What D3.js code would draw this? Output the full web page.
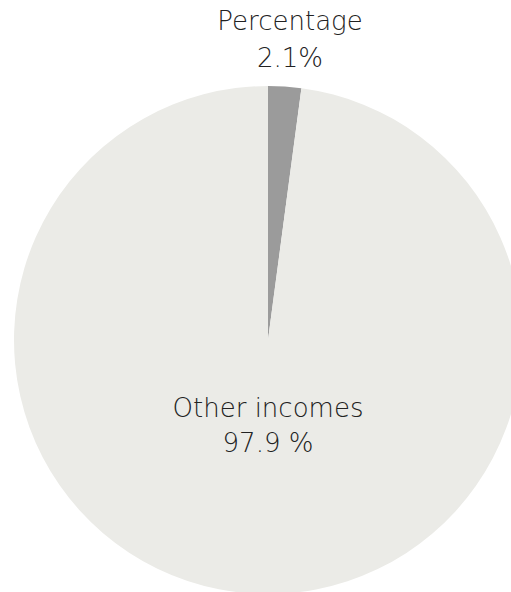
<!DOCTYPE html>
<html><head><meta charset="utf-8">
<script src="https://cdn.jsdelivr.net/npm/d3@7"></script>
<style>body{margin:0;background:#fff;} svg{display:block;}</style>
</head><body>
<svg id="chart" width="511" height="592"></svg>
<script>
const categories = ["Percentage", "Other incomes"];
const values = [2.1, 97.9];
const valueLabels = ["2.1%", "97.9 %"];
const colors = ["#9b9b9b", "#ebebe7"];

const svg = d3.select("#chart");
const cx = 268, cy = 340, r = 254;
const g = svg.append("g").attr("transform", `translate(${cx},${cy})`);
const pie = d3.pie().sort(null).value(d => d)(values);
const arc = d3.arc().innerRadius(0).outerRadius(r);
g.selectAll("path").data(pie).enter().append("path")
  .attr("d", arc).attr("fill", (d, i) => colors[i]);

const font = "'DejaVu Sans ExtraLight', 'DejaVu Sans', sans-serif";
// outside label for small slice follows its mid-angle; inside label centred
const mid0 = (pie[0].startAngle + pie[0].endAngle) / 2;
const labels = [
  {lines: [categories[0], valueLabels[0]], x: cx + (r + 80) * Math.sin(mid0), y: [30, 67]},
  {lines: [categories[1], valueLabels[1]], x: cx, y: [417, 452]}
];
labels.forEach(l => {
  l.lines.forEach((t, i) => {
    svg.append("text").attr("x", l.x).attr("y", l.y[i])
      .attr("text-anchor", "middle").attr("font-family", font)
      .attr("font-weight", 200).attr("font-size", 26)
      .attr("fill", "#222").text(t);
  });
});
</script>
</body></html>
